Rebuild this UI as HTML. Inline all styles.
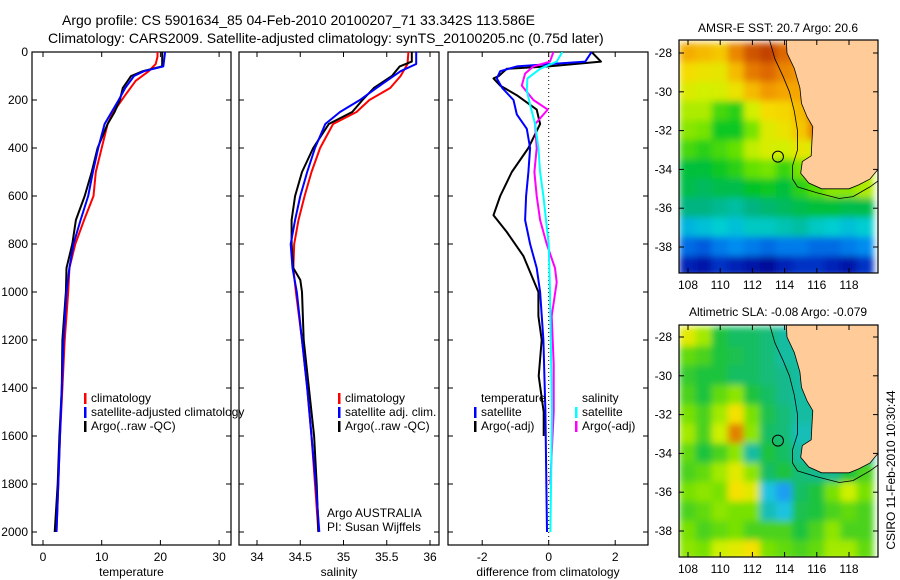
<!DOCTYPE html>
<html><head><meta charset="utf-8">
<style>
html,body{margin:0;padding:0;background:#fff;}
svg{display:block;font-family:"Liberation Sans",sans-serif;}
text{fill:#000;}
</style></head>
<body>
<svg id="fig" width="900" height="580" viewBox="0 0 900 580" xmlns="http://www.w3.org/2000/svg">
<defs>
<clipPath id="cp1"><rect x="32" y="52" width="199" height="493"/></clipPath>
<clipPath id="cp2"><rect x="239" y="52" width="200" height="493"/></clipPath>
<clipPath id="cp3"><rect x="448" y="52" width="200" height="493"/></clipPath>
<clipPath id="cm1"><rect x="679" y="40" width="199" height="233"/></clipPath>
<clipPath id="cm2"><rect x="679" y="325" width="199" height="232"/></clipPath>
<filter id="bl" x="-5%" y="-5%" width="110%" height="110%"><feGaussianBlur stdDeviation="3.5" edgeMode="duplicate"/></filter>
</defs>
<text x="62" y="25" font-size="14">Argo profile: CS 5901634_85 04-Feb-2010 20100207_71 33.342S 113.586E</text>
<text x="48" y="43" font-size="14">Climatology: CARS2009. Satellite-adjusted climatology: synTS_20100205.nc (0.75d later)</text>
<text x="778" y="32" font-size="12" text-anchor="middle">AMSR-E SST: 20.7 Argo: 20.6</text>
<text x="778" y="316" font-size="12" text-anchor="middle">Altimetric SLA: -0.08 Argo: -0.079</text>
<text transform="translate(895,470) rotate(-90)" font-size="12" text-anchor="middle">CSIRO 11-Feb-2010 10:30:44</text>
<g id="g"></g>
</svg>
<script>
// ---- profile data ----
const tClimDepth=[0,20,50,80,120,180,250,300,400,500,600,700,800,900,1000,1200,1400,1600,1800,2000];
const tClimVal=[19.5,19.5,19.2,18.0,15.8,14.0,12.0,11.0,10.0,9.0,8.6,7.0,5.5,4.5,4.3,3.7,3.3,2.9,2.6,2.3];
const tSatDepth=[0,60,80,100,150,200,300,400,500,600,700,800,900,1000,1200,1400,1600,1800,2000];
const tSatVal=[20.8,20.5,17.2,15.5,14.0,12.9,10.5,9.4,8.5,7.7,6.4,5.2,4.5,4.0,3.5,3.2,2.9,2.6,2.3];
const tArgoDepth=[0,60,80,100,150,200,250,300,400,500,600,700,800,900,1000,1200,1400,1600,1800,2000];
const tArgoVal=[20.3,20.3,17.0,15.0,13.6,13.1,12.2,11.0,9.3,8.3,7.1,5.6,5.0,4.0,3.9,3.3,3.2,2.8,2.5,2.0];
const sClimDepth=[0,50,100,150,200,250,300,400,500,600,700,800,900,1000,1200,1400,1600,1800,2000];
const sClimVal=[35.75,35.74,35.66,35.54,35.30,35.15,34.88,34.73,34.63,34.55,34.48,34.43,34.42,34.45,34.52,34.58,34.63,34.67,34.71];
const sSatDepth=[0,50,80,150,200,250,300,400,500,600,700,800,900,1000,1200,1400,1600,1800,2000];
const sSatVal=[35.84,35.84,35.66,35.38,35.19,34.96,34.79,34.67,34.58,34.50,34.44,34.39,34.41,34.46,34.52,34.58,34.63,34.68,34.72];
const sArgoDepth=[0,40,60,100,150,200,250,300,400,500,600,700,800,900,950,1000,1200,1400,1600,1800,2000];
const sArgoVal=[35.79,35.79,35.65,35.56,35.35,35.22,35.10,34.83,34.65,34.52,34.44,34.40,34.40,34.42,34.50,34.52,34.54,34.60,34.66,34.69,34.71];
const dTSatDepth=[0,40,60,80,110,150,200,260,320,400,500,600,700,800,900,1000,1200,1500,2000];
const dTSatVal=[1.29,1.1,-0.96,-1.46,-1.56,-1.4,-1.06,-0.96,-0.66,-0.56,-0.61,-0.68,-0.71,-0.56,-0.36,-0.26,-0.16,-0.1,-0.05];
const dTArgoDepth=[0,40,60,70,100,110,140,180,240,300,400,500,600,680,750,850,1000,1100,1200,1350,1500,1600];
const dTArgoVal=[1.29,1.57,0.0,-1.26,-1.5,-1.66,-1.46,-0.96,-0.36,-0.26,-0.61,-1.11,-1.46,-1.66,-1.26,-0.76,-0.31,-0.31,-0.21,-0.3,-0.15,-0.15];
const dSSatDepth=[0,40,70,110,160,220,300,400,500,600,700,800,1000,1500,2000];
const dSSatVal=[0.41,0.24,-0.26,-0.64,-0.66,-0.56,-0.41,-0.31,-0.26,-0.16,-0.08,0.0,0.04,0.1,0.05];
const dSArgoDepth=[0,40,60,90,140,200,240,300,400,500,600,700,800,900,960,1100,1300,1500,1700,1800];
const dSArgoVal=[0.14,0.04,-0.46,-0.71,-0.81,-0.46,-0.03,-0.41,-0.36,-0.43,-0.36,-0.26,-0.06,0.19,0.24,0.09,0.15,0.15,0.08,0.05];
const depthTicks=[0,200,400,600,800,1000,1200,1400,1600,1800,2000];
const tTicks=[0,10,20,30];
const sTicks=[34,34.5,35,35.5,36];
const sTickLabels=["34","34.5","35","35.5","36"];
const dTicks=[-2,0,2];
// ---- map data ----
const mapLons=[108,109,110,111,112,113,114,115,116,117,118,119];
const mapLats=[-28,-29,-30,-31,-32,-33,-34,-35,-36,-37,-38,-39];
const sst=[
[22.2,22.0,21.8,22.8,23.6,23.9,23.3,23,23,23,23,23],
[21.5,21.3,21.2,22.0,23.0,23.3,22.8,22.5,23,23,23,23],
[21.0,20.8,20.9,21.3,22.0,22.5,22.3,22.3,23,23,23,23],
[20.6,20.6,20.0,19.8,20.8,21.5,21.6,22.0,23,23,23,23],
[20.4,20.3,19.6,19.6,20.3,21.0,21.3,21.8,23,23,23,23],
[20.0,19.8,20.0,20.2,20.7,20.9,20.8,21.2,21,21,21,21],
[19.4,19.4,19.6,19.8,20.2,20.3,19.9,20.3,20.5,20.5,20.6,20.8],
[19.3,19.2,19.3,19.3,19.5,19.6,19.4,19.8,20.1,20.4,20.4,20.6],
[19.0,19.0,18.9,18.8,19.0,19.1,19.2,19.3,19.4,19.4,19.3,19.3],
[18.3,18.4,18.5,18.4,18.6,18.6,18.7,18.8,18.6,18.5,18.4,18.5],
[17.8,17.7,17.9,18.0,17.9,17.8,17.9,17.9,17.8,17.8,17.9,18.0],
[17.3,17.2,17.4,17.3,17.2,17.1,17.3,17.4,17.4,17.3,17.2,17.4]];
const sla=[
[0.10,0.06,0.00,-0.02,-0.02,-0.03,-0.05,-0.05,0,0,0,0],
[0.03,0.02,0.00,-0.01,-0.02,-0.03,-0.05,-0.05,0,0,0,0],
[0.01,0.00,0.00,-0.02,-0.02,-0.03,-0.04,-0.05,0,0,0,0],
[0.02,0.00,0.03,0.05,0.00,-0.02,-0.04,-0.05,-0.05,0,0,0],
[0.04,0.02,0.06,0.12,0.04,-0.01,-0.03,-0.05,-0.05,0,0,0],
[0.06,0.02,0.08,0.20,0.05,-0.02,-0.03,-0.06,-0.06,0,0,0],
[0.03,0.00,0.02,0.05,-0.05,0.00,-0.02,-0.05,-0.05,-0.05,-0.05,-0.05],
[0.02,0.03,0.06,0.10,0.05,-0.02,0.00,-0.03,-0.04,-0.04,0.00,0.02],
[0.04,0.05,0.04,0.12,0.10,-0.08,-0.12,-0.02,0.00,0.04,0.08,0.04],
[0.02,0.03,0.05,0.04,0.04,-0.06,-0.08,-0.01,0.00,0.02,0.03,0.02],
[0.04,0.02,0.03,0.04,0.02,0.02,0.02,0.00,0.02,0.05,0.02,0.02],
[0.05,0.04,0.08,0.10,0.12,0.04,0.03,0.02,0.03,0.06,0.06,0.03]];
const lonTicks=[108,110,112,114,116,118];
const latTicks=[-28,-30,-32,-34,-36,-38];
const argoLon=113.586, argoLat=-33.342;
const coastLon=[114.1,114.15,114.6,114.95,115.05,115.4,115.75,115.7,115.65,115.1,115.0,115.5,116.3,117.3,118.0,118.6,119.3,119.8,119.8];
const coastLat=[-27.2,-28,-28.8,-29.8,-30.6,-31.3,-31.8,-32.5,-33.3,-33.6,-34.2,-34.7,-35.0,-35.0,-35.0,-34.8,-34.5,-34.0,-27.2];
const shelfLon=[113.05,113.4,113.9,114.3,114.6,114.8,114.8,114.5,114.5,114.8,116.0,117.4,118.25,119.3,119.8];
const shelfLat=[-27.3,-28.3,-29.2,-30,-31,-32,-33,-33.8,-34.5,-34.9,-35.2,-35.5,-35.4,-34.9,-34.6];

const NS='http://www.w3.org/2000/svg';
const G=document.getElementById('g');
function el(tag,attrs,parent){const e=document.createElementNS(NS,tag);for(const k in attrs)e.setAttribute(k,attrs[k]);(parent||G).appendChild(e);return e;}
function txt(s,attrs,parent){const e=el('text',attrs,parent);e.textContent=s;return e;}

const yD=d=>52+d*0.24;
const xT=v=>43+v*5.87;
const xS=v=>257+(v-34)*86.5;
const xDf=v=>548.7+v*33.25;
const mx=lon=>688+(lon-108)*16.1;
const my1=lat=>53+(-28-lat)*19.4;
const my2=lat=>337+(-28-lat)*19.4;

function panel(x0,x1,name,xfun,ticks,labels,xlabel){
  const g=el('g',{});
  
  
  el('rect',{x:x0,y:52,width:x1-x0,height:493,fill:'none',stroke:'#000','stroke-width':1.2},g);
  depthTicks.forEach(d=>{
    const y=yD(d);
    el('line',{x1:x0,x2:x0+5,y1:y,y2:y,stroke:'#000'},g);
    el('line',{x1:x1-5,x2:x1,y1:y,y2:y,stroke:'#000'},g);
  });
  ticks.forEach((t,i)=>{
    const x=xfun(t);
    el('line',{x1:x,x2:x,y1:545,y2:540,stroke:'#000'},g);
    el('line',{x1:x,x2:x,y1:52,y2:57,stroke:'#000'},g);
    const lt=txt(labels[i],{x:x,y:561,'font-size':12,'text-anchor':'middle'},g);
    
    
  });
  const xl=txt(xlabel,{x:(x0+x1)/2,y:576,'font-size':12,'text-anchor':'middle'},g);
  
  
  return g;
}
function series(depths,vals,xfun,color,clip,name,w){
  const pts=depths.map((d,i)=>xfun(vals[i]).toFixed(1)+','+yD(d).toFixed(1)).join(' ');
  const p=el('polyline',{points:pts,fill:'none',stroke:color,'stroke-width':w||2,'clip-path':'url(#'+clip+')','stroke-linejoin':'round'});
  
  
}
function legendItem(x,y,color,label,name){
  const g=el('g',{});
  
  
  if(color) el('rect',{x:x,y:y-9,width:2.5,height:11,fill:color},g);
  txt(label,{x:x+7,y:y,'font-size':12},g);
}

depthTicks.forEach(d=>{
  const t=txt(String(d),{x:28,y:yD(d)+4,'font-size':12,'text-anchor':'end'});
  
  
});

panel(32,231,'temperature-panel',xT,tTicks,tTicks.map(String),'temperature');
series(tClimDepth,tClimVal,xT,'#ff0000','cp1','temp-climatology-line');
series(tArgoDepth,tArgoVal,xT,'#000000','cp1','temp-argo-line');
series(tSatDepth,tSatVal,xT,'#0000ff','cp1','temp-satellite-line');
legendItem(84,402,'#ff0000','climatology','legend-climatology');
legendItem(84,416,'#0000ff','satellite-adjusted climatology','legend-satellite-adjusted');
legendItem(84,430,'#000000','Argo(..raw -QC)','legend-argo');

panel(239,439,'salinity-panel',xS,sTicks,sTickLabels,'salinity');
series(sClimDepth,sClimVal,xS,'#ff0000','cp2','sal-climatology-line');
series(sArgoDepth,sArgoVal,xS,'#000000','cp2','sal-argo-line');
series(sSatDepth,sSatVal,xS,'#0000ff','cp2','sal-satellite-line');
legendItem(338,402,'#ff0000','climatology','legend-sal-climatology');
legendItem(338,416,'#0000ff','satellite adj. clim.','legend-sal-satellite');
legendItem(338,430,'#000000','Argo(..raw -QC)','legend-sal-argo');
txt('Argo AUSTRALIA',{x:327,y:517,'font-size':12});
txt('PI: Susan Wijffels',{x:327,y:531,'font-size':12});

panel(448,648,'difference-panel',xDf,dTicks,dTicks.map(String),'difference from climatology');
el('line',{x1:xDf(0),x2:xDf(0),y1:52,y2:545,stroke:'#000','stroke-width':1,'stroke-dasharray':'1,3'});
series(dTArgoDepth,dTArgoVal,xDf,'#000000','cp3','diff-temp-argo-line');
series(dTSatDepth,dTSatVal,xDf,'#0000ff','cp3','diff-temp-satellite-line');
series(dSArgoDepth,dSArgoVal,xDf,'#ff00ff','cp3','diff-sal-argo-line');
series(dSSatDepth,dSSatVal,xDf,'#00ffff','cp3','diff-sal-satellite-line');
legendItem(474,402,null,'temperature','legend-temperature-header');
legendItem(474,416,'#0000ff','satellite','legend-diff-temp-satellite');
legendItem(474,430,'#000000','Argo(-adj)','legend-diff-temp-argo');
legendItem(575,402,null,'salinity','legend-salinity-header');
legendItem(575,416,'#00ffff','satellite','legend-diff-sal-satellite');
legendItem(575,430,'#ff00ff','Argo(-adj)','legend-diff-sal-argo');

function interp(stops,v){
  if(v<=stops[0][0])return 'rgb('+stops[0][1].join(',')+')';
  for(let i=1;i<stops.length;i++){
    if(v<=stops[i][0]){
      const a=stops[i-1],b=stops[i],t=(v-a[0])/(b[0]-a[0]);
      return 'rgb('+[0,1,2].map(k=>Math.round(a[1][k]+(b[1][k]-a[1][k])*t)).join(',')+')';
    }
  }
  const l=stops[stops.length-1][1];return 'rgb('+l.join(',')+')';
}
const sstStops=[[17.0,[0,0,140]],[17.5,[0,60,210]],[18.0,[0,140,240]],[18.5,[0,205,210]],[19.0,[0,180,130]],[19.5,[0,195,40]],[20.2,[100,225,0]],[20.8,[210,240,0]],[21.5,[245,220,0]],[22.3,[245,165,0]],[23.2,[225,110,0]],[24.0,[190,60,0]]];
const slaStops=[[-0.15,[30,130,255]],[-0.08,[30,195,225]],[-0.04,[20,185,140]],[0,[30,195,60]],[0.04,[120,225,0]],[0.08,[205,240,0]],[0.12,[245,225,0]],[0.2,[225,130,0]]];

function drawMap(name,grid,stops,myf,clip,y0,y1){
  const g=el('g',{});
  
  
  const cg=el('g',{'clip-path':'url(#'+clip+')'},g);
  const hg=el('g',{filter:'url(#bl)'},cg);
  mapLats.forEach((lat,r)=>mapLons.forEach((lon,c)=>{
    const x0=mx(lon-0.5),x1=mx(lon+0.5),ya=myf(lat+0.5),yb=myf(lat-0.5);
    const cell=el('rect',{x:x0-0.5,y:ya-0.5,width:x1-x0+1,height:yb-ya+1,fill:interp(stops,grid[r][c])},hg);
    
    
  }));
  const land=el('polygon',{points:coastLon.map((l,i)=>mx(l).toFixed(1)+','+myf(coastLat[i]).toFixed(1)).join(' '),fill:'#ffcc99',stroke:'#000','stroke-width':0.8},cg);
  
  
  const sh=el('polyline',{points:shelfLon.map((l,i)=>mx(l).toFixed(1)+','+myf(shelfLat[i]).toFixed(1)).join(' '),fill:'none',stroke:'#000','stroke-width':0.8},cg);
  
  
  const ci=el('circle',{cx:mx(argoLon),cy:myf(argoLat),r:5.5,fill:'none',stroke:'#000','stroke-width':1},cg);
  
  
  el('rect',{x:679,y:y0,width:199,height:y1-y0,fill:'none',stroke:'#000','stroke-width':1.2},g);
  latTicks.forEach(lat=>{
    const y=myf(lat);
    el('line',{x1:679,x2:684,y1:y,y2:y,stroke:'#000'},g);
    el('line',{x1:873,x2:878,y1:y,y2:y,stroke:'#000'},g);
    const t=txt(String(lat),{x:672,y:y+4,'font-size':12,'text-anchor':'end'},g);
    
    
  });
  lonTicks.forEach(lon=>{
    const x=mx(lon);
    el('line',{x1:x,x2:x,y1:y1,y2:y1-5,stroke:'#000'},g);
    el('line',{x1:x,x2:x,y1:y0,y2:y0+5,stroke:'#000'},g);
    const t=txt(String(lon),{x:x,y:y1+16,'font-size':12,'text-anchor':'middle'},g);
    
    
  });
}
drawMap('sst-map',sst,sstStops,my1,'cm1',40,273);
drawMap('sla-map',sla,slaStops,my2,'cm2',325,557);
</script>
</body></html>
